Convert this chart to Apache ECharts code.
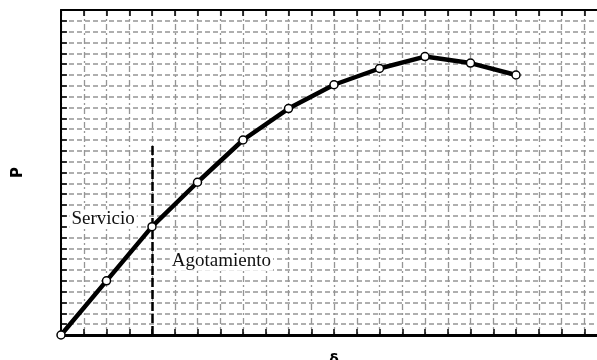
<!DOCTYPE html>
<html>
<head>
<meta charset="utf-8">
<script src="https://cdn.jsdelivr.net/npm/echarts@6/dist/echarts.min.js"></script>
<style>
  html, body { margin: 0; padding: 0; background: #fff; overflow: hidden; }
  #curveChart { width: 597px; height: 360px; }
</style>
</head>
<body>
<div id="curveChart"></div>
<script>
  // deformacion (en divisiones de la cuadricula) y carga P
  var deformacion = [0, 2, 4, 6, 8, 10, 12, 14, 16, 18, 20];
  var carga = [0, 5.0, 10.0, 14.1, 18.0, 20.9, 23.1, 24.6, 25.7, 25.1, 24.0];
  // limite servicio / agotamiento
  var limiteX = 4;
  var limiteAltura = 17.7;
  var etiquetas = ['Servicio', 'Agotamiento'];

  var chart = echarts.init(document.getElementById('curveChart'));

  var gridGris = '#959595';
  var ejeComun = {
    type: 'value',
    min: 0,
    interval: 1,
    axisLabel: { show: false },
    axisLine: { show: true, onZero: false, lineStyle: { color: '#000', width: 2 } },
    axisTick: { show: true, inside: true, length: 6, lineStyle: { color: '#000', width: 1.5 } }
  };

  chart.setOption({
    animation: false,
    grid: { left: 61, right: -10, top: 10, bottom: 25, containLabel: false, outerBoundsMode: 'none' },
    xAxis: [
      Object.assign({}, ejeComun, {
        max: 24,
        position: 'bottom',
        name: 'δ',
        nameLocation: 'middle',
        nameGap: 18,
        nameTextStyle: { color: '#000', fontSize: 14, fontWeight: 'bold', fontFamily: 'DejaVu Sans' },
        axisLine: { show: true, onZero: false, lineStyle: { color: '#000', width: 3 } },
        splitLine: { show: true, lineStyle: { color: gridGris, width: 1.3, type: [6, 3, 2, 3] } }
      }),
      Object.assign({}, ejeComun, { max: 24, position: 'top', splitLine: { show: false } })
    ],
    yAxis: [
      Object.assign({}, ejeComun, {
        max: 30,
        position: 'left',
        name: 'P',
        nameLocation: 'middle',
        nameGap: 35,
        nameRotate: 90,
        nameTextStyle: { color: '#000', fontSize: 15, fontWeight: 'bold', fontFamily: 'DejaVu Sans' },
        splitLine: { show: true, lineStyle: { color: gridGris, width: 1.6, type: [5, 3] } }
      }),
      Object.assign({}, ejeComun, { max: 30, position: 'right', splitLine: { show: false } })
    ],
    series: [
      {
        type: 'line',
        data: deformacion.map(function (d, i) { return [d, carga[i]]; }),
        symbol: 'circle',
        symbolSize: 8,
        showAllSymbol: true,
        z: 5,
        lineStyle: { color: '#000', width: 4.5 },
        itemStyle: { color: '#fff', borderColor: '#000', borderWidth: 1.5 },
        markLine: {
          symbol: 'none',
          silent: true,
          label: { show: false },
          lineStyle: { color: '#000', width: 2.5, type: [9, 3] },
          data: [[{ coord: [limiteX, 0] }, { coord: [limiteX, limiteAltura] }]]
        },
        markPoint: {
          symbol: 'rect',
          symbolSize: 0,
          silent: true,
          label: {
            show: true,
            position: 'inside',
            color: '#111',
            fontSize: 19,
            fontFamily: 'Liberation Serif',
            backgroundColor: '#fff',
            padding: [0, 2],
            formatter: function (p) { return p.name; }
          },
          data: [
            { name: etiquetas[0], coord: [1.85, 10.7] },
            { name: etiquetas[1], coord: [7.05, 6.8] }
          ]
        }
      }
    ]
  });
</script>
</body>
</html>
